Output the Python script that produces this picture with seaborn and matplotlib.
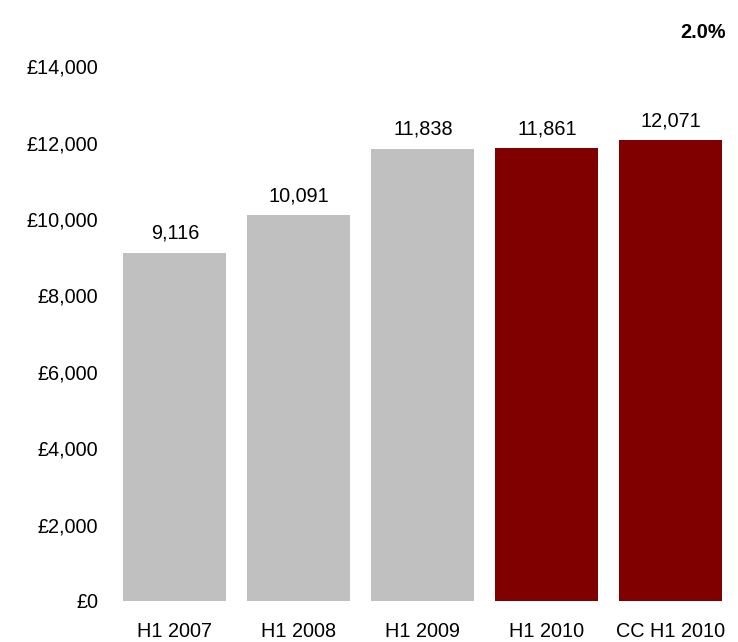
import matplotlib
matplotlib.use("Agg")
import matplotlib.pyplot as plt
import seaborn as sns
import pandas as pd

categories = ["H1 2007", "H1 2008", "H1 2009", "H1 2010", "CC H1 2010"]
values = [9116, 10091, 11838, 11861, 12071]
bar_colors = ["#C0C0C0", "#C0C0C0", "#C0C0C0", "#800000", "#800000"]
yticks = [0, 2000, 4000, 6000, 8000, 10000, 12000, 14000]
ytick_labels = ["£0", "£2,000", "£4,000", "£6,000", "£8,000", "£10,000", "£12,000", "£14,000"]
growth_label = "2.0%"

sns.set_theme(style="white")
plt.rcParams["font.family"] = ["Liberation Sans", "DejaVu Sans"]
plt.rcParams["text.color"] = "black"
plt.rcParams["xtick.color"] = "black"
plt.rcParams["ytick.color"] = "black"

FS = 14.3

df = pd.DataFrame({"cat": categories, "val": values})
fig = plt.figure(figsize=(7.38, 6.42), dpi=100)
ax = fig.add_axes([0.153, 0.064, 0.840, 0.833])
sns.barplot(data=df, x="cat", y="val", hue="cat", palette=bar_colors, legend=False,
            width=0.83, ax=ax, saturation=1, linewidth=0)
ax.set_xlim(-0.5, 4.5)
ax.set_ylim(0, 14000)
ax.set_yticks(yticks)
ax.set_yticklabels(ytick_labels, fontsize=FS)
ax.tick_params(axis="x", labelsize=FS, length=0, pad=15, labelcolor="black")
ax.tick_params(axis="y", length=0, pad=10.5, labelcolor="black")
ax.set_xlabel("")
ax.set_ylabel("")
for s in ax.spines.values():
    s.set_visible(False)
for c in ax.containers:
    ax.bar_label(c, labels=[f"{v:,.0f}" for v in c.datavalues], padding=7, fontsize=FS, color="black")
fig.text(0.983, 0.949, growth_label, ha="right", va="center", fontsize=FS, fontweight="bold", color="black")
fig.savefig("out.png", dpi=100, facecolor="white")
